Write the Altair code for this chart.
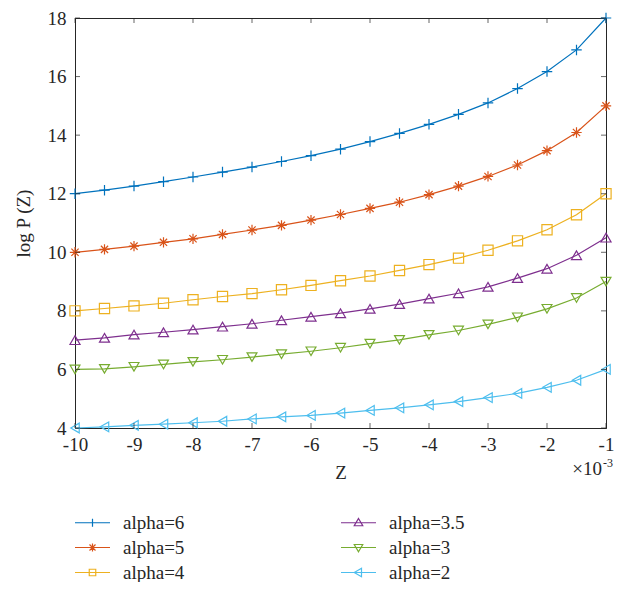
import altair as alt
import pandas as pd

# ---------------- data ----------------
z = [-10, -9.5, -9, -8.5, -8, -7.5, -7, -6.5, -6, -5.5,
     -5, -4.5, -4, -3.5, -3, -2.5, -2, -1.5, -1]
labels = ["alpha=6", "alpha=5", "alpha=4", "alpha=3.5", "alpha=3", "alpha=2"]
y_a6 = [12.0, 12.12, 12.26, 12.41, 12.57, 12.74, 12.91, 13.1, 13.3, 13.52,
        13.78, 14.06, 14.37, 14.71, 15.1, 15.59, 16.17, 16.91, 18.0]
y_a5 = [10.0, 10.1, 10.21, 10.34, 10.46, 10.61, 10.76, 10.92, 11.1, 11.29,
        11.5, 11.71, 11.97, 12.26, 12.59, 12.98, 13.47, 14.09, 15.0]
y_a4 = [8.0, 8.08, 8.17, 8.26, 8.38, 8.49, 8.59, 8.72, 8.87, 9.03,
        9.19, 9.38, 9.58, 9.8, 10.07, 10.39, 10.77, 11.28, 12.0]
y_a35 = [7.0, 7.08, 7.19, 7.27, 7.36, 7.46, 7.56, 7.68, 7.8, 7.92,
         8.07, 8.23, 8.42, 8.6, 8.82, 9.12, 9.44, 9.9, 10.5]
y_a3 = [6.0, 6.02, 6.09, 6.17, 6.26, 6.33, 6.42, 6.52, 6.62, 6.74,
        6.88, 7.01, 7.18, 7.33, 7.54, 7.78, 8.07, 8.44, 9.0]
y_a2 = [4.0, 4.04, 4.09, 4.13, 4.18, 4.23, 4.31, 4.38, 4.43, 4.51,
        4.6, 4.69, 4.79, 4.9, 5.04, 5.18, 5.39, 5.63, 6.0]
series_values = [y_a6, y_a5, y_a4, y_a35, y_a3, y_a2]
x_ticks = [-10, -9, -8, -7, -6, -5, -4, -3, -2, -1]
y_ticks = [4, 6, 8, 10, 12, 14, 16, 18]

# ---------------- styles ----------------
colors = ["#0072BD", "#D95319", "#EDB120", "#7E2F8E", "#77AC30", "#4DBEEE"]
plus = "M-1,0H1M0,-1V1"
star = "M-1,0H1M0,-1V1M-0.7,-0.7L0.7,0.7M-0.7,0.7L0.7,-0.7"
shapes = [plus, star, "square", "triangle-up", "triangle-down", "triangle-left"]
sizes = [110, 95, 55, 100, 100, 100]
line = "M-3.5,0H3.5"
leg_paths = [
    line + "M0,-0.8V0.8",
    line + "M0,-0.8V0.8M-0.6,-0.6L0.6,0.6M-0.6,0.6L0.6,-0.6",
    line + "M-0.65,-0.65H0.65V0.65H-0.65Z",
    line + "M0,-0.85L0.85,0.6L-0.85,0.6Z",
    line + "M0,0.85L0.85,-0.6L-0.85,-0.6Z",
    line + "M-0.85,0L0.6,-0.85L0.6,0.85Z",
]
FONT = "Liberation Serif, DejaVu Serif, serif"
FS = 19
AX = "#262626"
W, H = 531, 410

rows = []
for lab, vals in zip(labels, series_values):
    for xv, yv in zip(z, vals):
        rows.append({"z": xv, "y": yv, "series": lab})
df = pd.DataFrame(rows)

xscale = alt.Scale(domain=[-10, -1], nice=False, zero=False)
yscale = alt.Scale(domain=[4, 18], nice=False, zero=False)
cscale = alt.Scale(domain=labels, range=colors)

base = alt.Chart(df)
lines = base.mark_line(strokeWidth=1.2).encode(
    x=alt.X("z:Q", scale=xscale, axis=alt.Axis(
        values=x_ticks, labelExpr="'' + datum.value", ticks=False, tickSize=0,
        grid=False, labelPadding=7, title="Z", titlePadding=9,
        labelFont=FONT, labelFontSize=FS, titleFont=FONT, titleFontSize=FS,
        titleFontWeight="normal", labelColor=AX, titleColor=AX,
        domainColor=AX, labelFlush=False)),
    y=alt.Y("y:Q", scale=yscale, axis=alt.Axis(
        values=y_ticks, ticks=False, tickSize=0, grid=False, labelPadding=9,
        title="log P (Z)", titlePadding=14,
        labelFont=FONT, labelFontSize=FS, titleFont=FONT, titleFontSize=FS,
        titleFontWeight="normal", labelColor=AX, titleColor=AX,
        domainColor=AX, labelFlush=False)),
    color=alt.Color("series:N", scale=cscale, legend=None),
)
points = base.mark_point(filled=False, strokeWidth=1.2, opacity=1).encode(
    x=alt.X("z:Q", scale=xscale),
    y=alt.Y("y:Q", scale=yscale),
    color=alt.Color("series:N", scale=cscale, legend=None),
    shape=alt.Shape("series:N", scale=alt.Scale(domain=labels, range=shapes), legend=None),
    size=alt.Size("series:N", scale=alt.Scale(domain=labels, range=sizes), legend=None),
)

xt = pd.DataFrame({"z": x_ticks})
yt = pd.DataFrame({"y": y_ticks})
tick_bottom = alt.Chart(xt).mark_tick(orient="vertical", size=5, thickness=1, color=AX).encode(
    x=alt.X("z:Q", scale=xscale), y=alt.value(H - 2.5))
tick_top = alt.Chart(xt).mark_tick(orient="vertical", size=5, thickness=1, color=AX).encode(
    x=alt.X("z:Q", scale=xscale), y=alt.value(2.5))
tick_left = alt.Chart(yt).mark_tick(orient="horizontal", size=5, thickness=1, color=AX).encode(
    y=alt.Y("y:Q", scale=yscale), x=alt.value(2.5))
tick_right = alt.Chart(yt).mark_tick(orient="horizontal", size=5, thickness=1, color=AX).encode(
    y=alt.Y("y:Q", scale=yscale), x=alt.value(W - 2.5))

leg = alt.Legend(orient="none", legendX=8, legendY=495, columns=2,
                 columnPadding=153, rowPadding=5, title=None,
                 symbolSize=100, symbolStrokeWidth=1.2, symbolFillColor="transparent",
                 labelFont=FONT, labelFontSize=FS, labelColor=AX, labelOffset=21,
                 labelLimit=200)
dummy = base.transform_filter("false").mark_point(
    filled=False, opacity=1, strokeWidth=1.2).encode(
    x=alt.X("z:Q", scale=xscale),
    y=alt.Y("y:Q", scale=yscale),
    color=alt.Color("series:N", scale=alt.Scale(domain=labels, range=colors), legend=leg),
    shape=alt.Shape("series:N", scale=alt.Scale(domain=labels, range=leg_paths), legend=leg),
)

txt = pd.DataFrame({"t": ["×10"], "e": ["-3"]})
mult = alt.Chart(txt).mark_text(font=FONT, fontSize=FS, align="right", baseline="middle",
                                color=AX).encode(text="t:N", x=alt.value(W - 4), y=alt.value(451))
expo = alt.Chart(txt).mark_text(font=FONT, fontSize=12, align="left", baseline="middle",
                                color=AX).encode(text="e:N", x=alt.value(W - 3), y=alt.value(445))

chart = alt.layer(
    lines, points, tick_bottom, tick_top, tick_left, tick_right, mult, expo, dummy
).resolve_scale(
    color="independent", shape="independent"
).properties(
    width=W, height=H,
    autosize=alt.AutoSizeParams(type="none"),
    padding={"left": 67, "top": 10, "right": 21, "bottom": 154},
    background="white",
).configure_view(stroke=AX, strokeWidth=1)

chart.save("out.html", embed_options={"renderer": "svg", "actions": False})
